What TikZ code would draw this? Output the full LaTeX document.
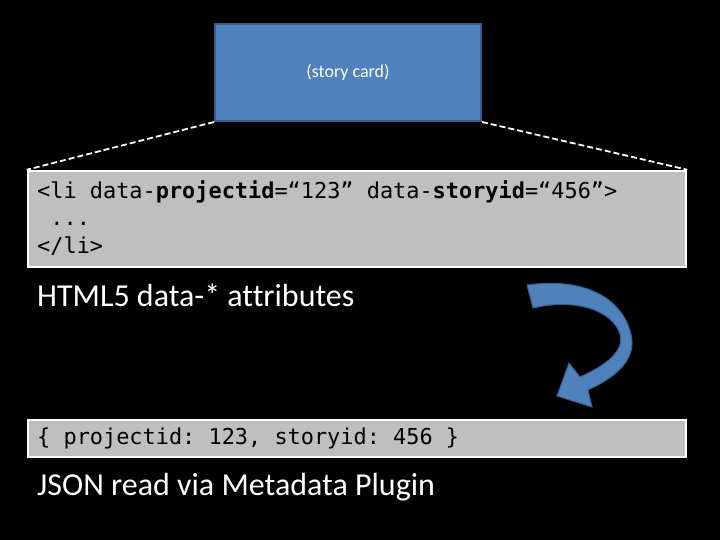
\documentclass[tikz,border=0pt]{standalone}
\usepackage{fontspec}
\setmainfont[Ligatures=CommonOff]{Carlito}
\setmonofont{DejaVu Sans Mono}
\definecolor{cardblue}{HTML}{4F81BD}
\definecolor{cardline}{HTML}{385D8A}
\definecolor{codegray}{HTML}{BFBFBF}
\begin{document}
\begin{tikzpicture}[x=1pt, y=-1pt,
    codebox/.style={draw=white, line width=2.5pt, fill=codegray},
    codetext/.style={anchor=west, inner sep=0pt, align=left, text=black,
        font=\ttfamily\fontsize{21.9}{27.5}\selectfont},
    caption/.style={anchor=west, inner sep=0pt, text=white,
        font=\fontsize{32}{36}\selectfont}]
    % page
    \fill[black] (0,0) rectangle (720,540);
    \useasboundingbox (0,0) rectangle (720,540);

    % story card
    \node (card) [draw=cardline, line width=2pt, fill=cardblue,
        minimum width=266pt, minimum height=97pt, text=white,
        font=\fontsize{18}{22}\selectfont] at (348,72.5) {(story card)};

    % markup box
    \node (markup) [codebox, minimum width=658pt, minimum height=96pt]
        at (357,219) {};
    \node (markuptext) [codetext] at (37,218)
        {<li data-\textbf{projectid}=“123” data-\textbf{storyid}=“456”>\\
         ~...\\
         </li>};

    \draw[white, dashed, line width=1.8pt, dash pattern=on 6pt off 3pt]
        (card.south west) to (markup.north west);
    \draw[white, dashed, line width=1.8pt, dash pattern=on 6pt off 3pt]
        (card.south east) to (markup.north east);

    \node (htmllab) [caption] at (37,295) {HTML5 data-* attributes};

    % curved arrow
    \filldraw[fill=cardblue, draw=cardline, line width=1pt]
        (527,285) -- (533,308)
        .. controls (575,298) and (612,310) .. (620,334)
        .. controls (625,352) and (604,366) .. (580,377)
        -- (569,363) -- (557,396) -- (592,407) -- (588,390)
        .. controls (616,377) and (637,360) .. (631,334)
        .. controls (622,298) and (585,277) .. (527,285) -- cycle;

    % json box
    \node (json) [codebox, minimum width=658pt, minimum height=37pt]
        at (357,438.5) {};
    \node (jsontext) [codetext] at (37,438)
        {\{ projectid: 123, storyid: 456 \}};

    \node (jsonlab) [caption] at (37,487) {JSON read via Metadata Plugin};
\end{tikzpicture}
\end{document}
